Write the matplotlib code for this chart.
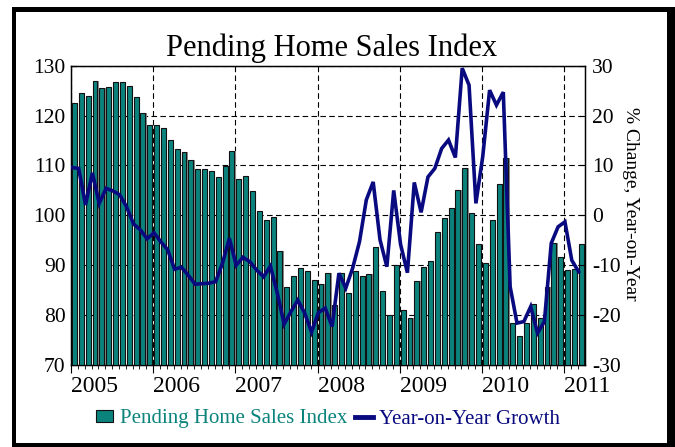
import matplotlib
matplotlib.use("Agg")
import matplotlib.pyplot as plt
import numpy as np
from matplotlib.patches import Rectangle, Patch
from matplotlib.lines import Line2D

plt.rcParams['font.family'] = ['Liberation Serif', 'DejaVu Serif']
plt.rcParams['axes.unicode_minus'] = False

# Monthly data, Jan 2005 - Mar 2011
phsi = [122.5, 124.6, 123.9, 127.0, 125.5, 125.7, 126.8, 126.7, 125.9, 123.7, 120.6, 118.2,
        118.2, 117.6, 115.2, 113.4, 112.6, 111.1, 109.2, 109.2, 108.9, 107.6, 109.9, 112.9,
        107.2, 107.9, 104.9, 100.9, 99.1, 99.7, 92.9, 85.7, 87.9, 89.5, 88.8, 87.0,
        86.2, 88.5, 82.0, 88.5, 84.4, 88.9, 87.8, 88.2, 93.6, 84.8, 80.0, 90.0,
        81.0, 79.5, 86.8, 89.7, 90.8, 96.7, 99.4, 101.4, 105.1, 109.4, 100.5, 94.2,
        90.4, 99.1, 106.2, 111.4, 78.5, 75.8, 78.5, 82.2, 79.5, 85.7, 94.4, 91.6,
        89.0, 89.3, 94.3]
yoy = [9.6, 9.4, 2.1, 8.5, 2.4, 5.4, 4.9, 4.1, 1.7, -1.7, -2.9, -4.7,
       -3.5, -5.3, -6.9, -10.8, -10.4, -12.0, -13.8, -13.7, -13.6, -13.3, -9.6, -4.6,
       -10.0, -8.4, -9.3, -11.0, -12.3, -10.2, -15.6, -21.8, -19.3, -17.0, -19.6, -23.4,
       -19.5, -18.6, -22.3, -11.6, -14.6, -10.6, -5.3, 3.1, 6.7, -4.9, -10.3, 5.0,
       -5.8, -11.5, 6.6, 0.6, 7.7, 9.4, 13.4, 15.1, 11.6, 29.5, 26.1, 2.4,
       11.8, 25.1, 22.1, 24.7, -14.3, -21.6, -21.3, -18.3, -23.6, -21.3, -5.6, -2.3,
       -1.3, -9.0, -11.3]
years = ['2005', '2006', '2007', '2008', '2009', '2010', '2011']

teal = '#0b837d'
navy = '#0a0a80'
W, H = 675, 447

fig = plt.figure(figsize=(6.75, 4.47), dpi=100)

# outer frame with shadow
fig.patches.append(Rectangle((11.7 / W, 0), (W - 11.7) / W, (H - 7.3) / H,
                             transform=fig.transFigure, facecolor='black', zorder=-2))
fig.patches.append(Rectangle((16 / W, 4 / H), (666.7 - 16) / W, (443 - 11.7) / H,
                             transform=fig.transFigure, facecolor='white', zorder=-1))

ax = fig.add_axes([71 / W, 1 - 365 / H, (585 - 71) / W, (365 - 65.7) / H])
ax.set_facecolor('none')
x = np.arange(len(phsi))
ax.bar(x + 0.18, phsi, width=0.72, color='#8c8c8c', zorder=2)
ax.bar(x, phsi, width=0.72, color=teal, edgecolor='#111111', linewidth=0.8, zorder=3)
ax.set_xlim(-0.47, 74.55)
ax.set_ylim(70, 130)
ax.set_yticks(np.arange(70, 131, 10))
ax.set_xticks(np.arange(len(years)) * 12 - 0.5)
ax.set_xticklabels(years, ha='left')
ax.set_xticks(np.arange(len(phsi)) - 0.5, minor=True)
ax.grid(True, color='black', linestyle=(0, (5, 3)), linewidth=0.8, zorder=1)
ax.set_axisbelow(True)
ax.tick_params(axis='x', which='major', direction='out', length=6, labelsize=17, pad=2)
ax.tick_params(axis='x', which='minor', direction='out', length=3)
ax.tick_params(axis='y', direction='in', length=4, labelsize=15.5, pad=4)
for s in ax.spines.values():
    s.set_linewidth(1.0)

ax2 = ax.twinx()
ax2.plot(x - 0.38, yoy, color=navy, linewidth=2.6, solid_joinstyle='miter', zorder=4)
ax2.set_ylim(-30, 30)
ax2.set_yticks(np.arange(-30, 31, 10))
ax2.tick_params(axis='y', direction='in', length=4, labelsize=15.5, pad=5)

fig.text(332 / W, 1 - 56 / H, 'Pending Home Sales Index', fontsize=22,
         ha='center', va='baseline')
fig.text(630 / W, 1 - 203.5 / H, '% Change, Year-on-Year', fontsize=14,
         rotation=270, ha='center', va='center')

handles = [Patch(facecolor=teal, edgecolor='#111111', linewidth=0.8),
           Line2D([], [], color=navy, linewidth=3.5)]
fig.legend(handles, ['Pending Home Sales Index', 'Year-on-Year Growth'],
           loc='center', bbox_to_anchor=(328 / W, 1 - 419 / H), ncol=2, frameon=False,
           fontsize=15, labelcolor=[teal, navy], handlelength=0.85, handleheight=0.55,
           handletextpad=0.3, columnspacing=0.4, borderpad=0)

fig.savefig('out.png', dpi=100)
